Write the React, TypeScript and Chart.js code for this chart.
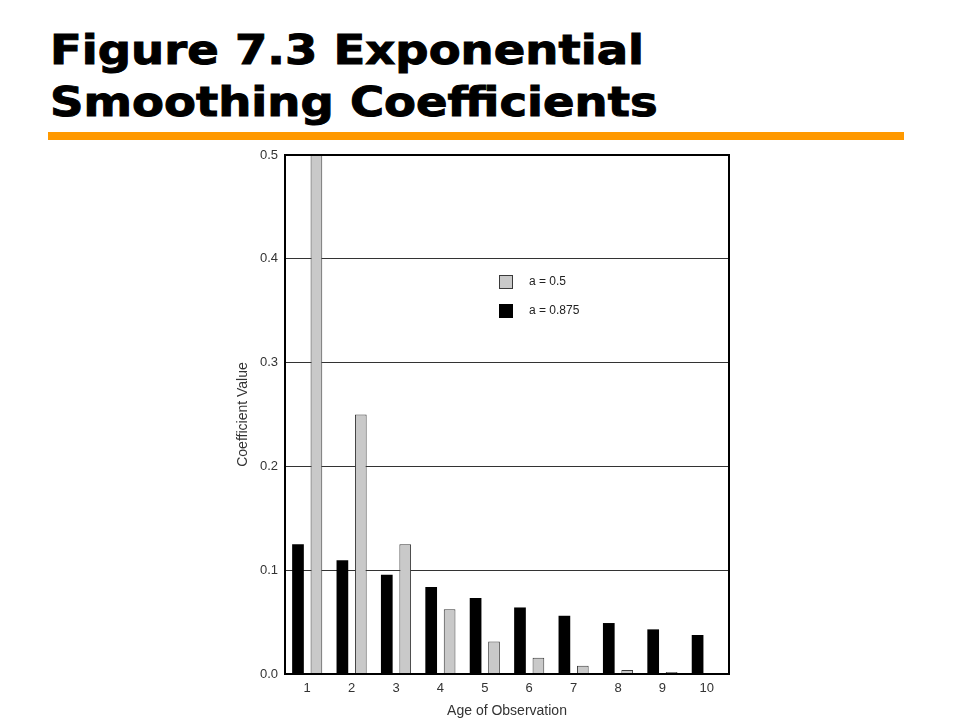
import React, { useEffect, useRef } from "react";
import { Chart, registerables } from "chart.js";

Chart.register(...registerables);

const categories = ["1", "2", "3", "4", "5", "6", "7", "8", "9", "10"];
const seriesA0875 = [0.125, 0.1095, 0.0957, 0.0838, 0.0733, 0.0641, 0.0561, 0.0491, 0.043, 0.0376];
const seriesA05 = [0.5, 0.25, 0.125, 0.0625, 0.0313, 0.0157, 0.0079, 0.0039, 0.002, 0.001];
const yTicks = [0, 0.1, 0.2, 0.3, 0.4, 0.5];
const titleLines = ["Figure 7.3 Exponential", "Smoothing Coefficients"];

const FONT = "'Liberation Sans', Arial, sans-serif";

const framePlugin = {
  id: "frameAndLegend",
  afterDatasetsDraw(chart: any) {
    const { ctx, chartArea: a } = chart;
    ctx.save();
    ctx.strokeStyle = "#000";
    ctx.lineWidth = 2;
    ctx.strokeRect(a.left, a.top, a.right - a.left, a.bottom - a.top);

    // legend inside plot, a = 0.5 first
    const items = [...chart.data.datasets].reverse();
    const bx = a.left + 214;
    let by = a.top + 120;
    ctx.font = `12px ${FONT}`;
    ctx.textBaseline = "middle";
    ctx.textAlign = "left";
    items.forEach((ds: any) => {
      ctx.fillStyle = ds.backgroundColor;
      ctx.fillRect(bx, by, 14, 14);
      ctx.lineWidth = 1;
      ctx.strokeStyle = ds.borderColor;
      ctx.strokeRect(bx + 0.5, by + 0.5, 13, 13);
      ctx.fillStyle = "#222";
      ctx.fillText(ds.label, bx + 30, by + 7);
      by += 29;
    });
    ctx.restore();
  },
};

export default function App() {
  const ref = useRef<HTMLCanvasElement | null>(null);

  useEffect(() => {
    if (!ref.current) return;
    const chart = new Chart(ref.current, {
      type: "bar",
      data: {
        labels: categories,
        datasets: [
          {
            label: "a = 0.875",
            data: seriesA0875,
            backgroundColor: "#000000",
            borderColor: "#000000",
            borderWidth: 0,
            categoryPercentage: 0.83,
            barPercentage: 0.635,
          },
          {
            label: "a = 0.5",
            data: seriesA05,
            backgroundColor: "#c9c9c9",
            borderColor: "#3a3a3a",
            borderWidth: 1,
            categoryPercentage: 0.83,
            barPercentage: 0.635,
          },
        ],
      },
      options: {
        animation: false,
        responsive: true,
        maintainAspectRatio: false,
        layout: { padding: { left: 231, right: 231, top: 155, bottom: 0 } },
        plugins: {
          legend: { display: false },
          tooltip: { enabled: false },
          title: { display: false },
        },
        scales: {
          x: {
            grid: { display: false, drawTicks: false },
            border: { display: false },
            ticks: { color: "#333", font: { family: FONT, size: 13 }, padding: 7 },
            title: {
              display: true,
              text: "Age of Observation",
              color: "#333",
              font: { family: FONT, size: 14 },
              padding: { top: 0, bottom: 0 },
            },
            afterFit: (s: any) => {
              s.height = 46;
            },
          },
          y: {
            min: 0,
            max: 0.5,
            afterBuildTicks: (s: any) => {
              s.ticks = yTicks.map((v) => ({ value: v }));
            },
            grid: {
              color: (c: any) => (c.tick && (c.tick.value === 0 || c.tick.value === 0.5) ? "rgba(0,0,0,0)" : "#333"),
              lineWidth: 1,
              drawTicks: false,
            },
            border: { display: false },
            ticks: {
              color: "#333",
              font: { family: FONT, size: 13 },
              padding: 7,
              callback: (v: any) => Number(v).toFixed(1),
            },
            title: {
              display: true,
              text: "Coefficient Value",
              color: "#333",
              font: { family: FONT, size: 14 },
              padding: { top: 4, bottom: 0 },
            },
            afterFit: (s: any) => {
              s.width = 54;
            },
          },
        },
      },
      plugins: [framePlugin],
    });
    return () => chart.destroy();
  }, []);

  return (
    <div style={{ position: "fixed", left: 0, top: 0, width: 960, height: 720, background: "#fff" }}>
      {titleLines.map((t, i) => (
        <div
          key={i}
          style={{
            position: "absolute",
            left: 50,
            top: 24 + i * 52,
            fontFamily: "'DejaVu Sans', sans-serif",
            fontWeight: "bold",
            fontSize: 41,
            lineHeight: "52px",
            whiteSpace: "nowrap",
            color: "#000",
            WebkitTextStroke: "1px #000",
            transform: "scaleX(1.135)",
            transformOrigin: "left top",
          }}
        >
          {t}
        </div>
      ))}
      <div style={{ position: "absolute", left: 48, top: 132, width: 856, height: 8, background: "#FF9900" }} />
      <div style={{ position: "absolute", left: 0, top: 0, width: 960, height: 720 }}>
        <canvas ref={ref} />
      </div>
    </div>
  );
}
